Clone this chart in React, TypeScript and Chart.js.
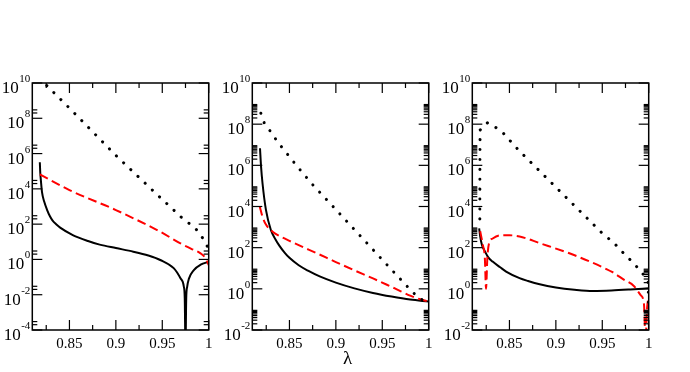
import React, { useEffect, useRef } from 'react';
import { Chart, registerables } from 'chart.js';

Chart.register(...registerables);

// ---------- shared axis data ----------
const X_MIN = 0.81;
const X_MAX = 1;
const xTickValues = [0.85, 0.9, 0.95, 1];
const xTickLabels = ['0.85', '0.9', '0.95', '1'];
const xMinorTicks = [0.825, 0.875, 0.925, 0.975];
const xAxisTitle = 'λ';

// ---------- panel 1 ----------
const p1YExponents = [-4, -2, 0, 2, 4, 6, 8, 10];
const p1MinorFactors = [2, 3];
const p1SolidX = [0.8181, 0.8186, 0.8192, 0.8205, 0.8228, 0.826, 0.829, 0.8319, 0.836, 0.84, 0.8536, 0.87, 0.8826, 0.9, 0.9188, 0.935, 0.9478, 0.9623, 0.9696, 0.9732, 0.9742, 0.975, 0.9758, 0.9768, 0.9786, 0.984, 0.9913, 1.0];
const p1SolidY = [3.2e5, 7.9e4, 3.2e4, 6.3e3, 1.9e3, 630, 280, 158, 95, 63, 24, 11, 6.9, 4.4, 2.75, 1.66, 0.93, 0.32, 0.085, 0.029, 0.0063, 1e-5, 0.0063, 0.028, 0.079, 0.25, 0.5, 0.74];
const p1DashX = [0.8181, 0.85, 0.9, 0.9478, 0.9696, 0.9813, 0.9913, 0.9967, 1.0];
const p1DashY = [6.6e4, 8.5e3, 630, 37, 8.1, 4.0, 2.2, 1.15, 0.48];
const p1DotX = [0.8181, 0.8257, 0.85, 0.9, 0.95, 0.9605, 0.9677, 0.976, 0.984, 0.9913, 0.9967, 1.0];
const p1DotY = [1.8e10, 7.1e9, 3.8e8, 7.9e5, 2.5e3, 790, 330, 140, 72, 26, 8.1, 4.0];

// ---------- panel 2 ----------
const p2YExponents = [-2, 0, 2, 4, 6, 8, 10];
const p2MinorFactors = [2, 3, 4, 5, 6, 7, 8, 9];
const p2SolidX = [0.8183, 0.8195, 0.821, 0.8247, 0.83, 0.835, 0.8391, 0.845, 0.85, 0.86, 0.87, 0.8826, 0.9, 0.92, 0.94, 0.96, 0.98, 1.0];
const p2SolidY = [6.8e6, 7.9e5, 1.35e5, 6.8e3, 720, 250, 126, 56, 32, 14, 7.6, 4.0, 2.0, 1.05, 0.63, 0.42, 0.3, 0.24];
const p2DashX = [0.8181, 0.821, 0.8247, 0.8319, 0.84, 0.85, 0.86, 0.88, 0.9, 0.92, 0.94, 0.955, 0.97, 0.98, 0.99, 1.0];
const p2DashY = [9.8e3, 3.2e3, 1.32e3, 600, 355, 214, 132, 52, 20, 7.9, 3.2, 1.58, 0.76, 0.47, 0.32, 0.24];
const p2DotX = [0.8192, 0.8228, 0.829, 0.8348, 0.8413, 0.8478, 0.8543, 0.8609, 0.8746, 0.9, 0.95, 0.9822, 0.9902, 0.996];
const p2DotY = [3.4e8, 1.17e8, 4.8e7, 2.0e7, 8.1e6, 3.5e6, 1.5e6, 6.5e5, 1.2e5, 7.1e3, 26, 0.72, 0.35, 0.24];

// ---------- panel 3 ----------
const p3YExponents = [-2, 0, 2, 4, 6, 8, 10];
const p3MinorFactors = [2, 3, 4, 5, 6, 7, 8, 9];
const p3SolidX = [0.8174, 0.8185, 0.8195, 0.821, 0.8228, 0.827, 0.8319, 0.84, 0.8464, 0.8609, 0.87, 0.8826, 0.9, 0.92, 0.94, 0.96, 0.98, 1.0];
const p3SolidY = [870, 355, 200, 112, 78, 35, 21, 11.2, 6.9, 3.3, 2.4, 1.66, 1.17, 0.91, 0.79, 0.83, 0.93, 1.07];
const p3DashX = [0.8185, 0.8215, 0.8235, 0.8248, 0.8262, 0.828, 0.832, 0.84, 0.85, 0.8609, 0.8826, 0.9188, 0.955, 0.9605, 0.9732, 0.984, 0.9913, 0.9949, 0.9966, 0.9983, 1.0];
const p3DashY = [630, 126, 32, 1.0, 32, 160, 280, 400, 400, 350, 166, 45, 8.9, 6.6, 2.8, 1.38, 0.5, 0.18, 0.0032, 0.126, 0.4];
const p3DotX = [0.8181, 0.8182, 0.8184, 0.8264, 0.8355, 0.8435, 0.86, 0.9, 0.95, 0.963, 0.9703, 0.9775, 0.9848, 0.992, 0.9993, 0.9997, 1.0];
const p3DotY = [2.5e3, 1e6, 5.2e7, 1.17e8, 6.8e7, 3.6e7, 5.4e6, 8.7e4, 500, 162, 71, 34, 15.5, 6.8, 2.45, 0.32, 0.032];

type PanelSpec = {
  exps: number[];
  minor: number[];
  solid: [number[], number[]];
  dash: [number[], number[]];
  dot: [number[], number[]];
  title?: string;
};

const panels: PanelSpec[] = [
  { exps: p1YExponents, minor: p1MinorFactors, solid: [p1SolidX, p1SolidY], dash: [p1DashX, p1DashY], dot: [p1DotX, p1DotY] },
  { exps: p2YExponents, minor: p2MinorFactors, solid: [p2SolidX, p2SolidY], dash: [p2DashX, p2DashY], dot: [p2DotX, p2DotY], title: xAxisTitle },
  { exps: p3YExponents, minor: p3MinorFactors, solid: [p3SolidX, p3SolidY], dash: [p3DashX, p3DashY], dot: [p3DotX, p3DotY] },
];

const SERIF = "'Liberation Serif', 'Times New Roman', serif";
const CANVAS_W = 230;
const CANVAS_H = 372;

const pts = (xs: number[], ys: number[]) => xs.map((x, i) => ({ x, y: ys[i] }));

function decorPlugin(spec: PanelSpec) {
  return {
    id: 'panelDecor',
    afterDatasetsDraw(chart: any) {
      const { ctx, chartArea: a, scales } = chart;
      const xs = scales.x;
      const ys = scales.y;
      ctx.save();
      ctx.strokeStyle = '#000';
      ctx.lineWidth = 1.2;
      const seg = (x1: number, y1: number, x2: number, y2: number) => {
        ctx.beginPath();
        ctx.moveTo(x1, y1);
        ctx.lineTo(x2, y2);
        ctx.stroke();
      };
      const MAJ = 10;
      const MIN = 5;
      xTickValues.forEach((v) => {
        const px = xs.getPixelForValue(v);
        seg(px, a.bottom, px, a.bottom - MAJ);
        seg(px, a.top, px, a.top + MAJ);
      });
      xMinorTicks.forEach((v) => {
        const px = xs.getPixelForValue(v);
        seg(px, a.bottom, px, a.bottom - MIN);
        seg(px, a.top, px, a.top + MIN);
      });
      spec.exps.forEach((e) => {
        const py = ys.getPixelForValue(Math.pow(10, e));
        seg(a.left, py, a.left + MAJ, py);
        seg(a.right, py, a.right - MAJ, py);
        spec.minor.forEach((k) => {
          const v = k * Math.pow(10, e);
          if (v >= ys.max) return;
          const pm = ys.getPixelForValue(v);
          seg(a.left, pm, a.left + MIN, pm);
          seg(a.right, pm, a.right - MIN, pm);
        });
      });
      ctx.lineWidth = 1.5;
      ctx.strokeRect(a.left, a.top, a.right - a.left, a.bottom - a.top);

      ctx.fillStyle = '#000';
      ctx.textBaseline = 'alphabetic';
      ctx.textAlign = 'left';
      const right = a.left - 2;
      spec.exps.forEach((e) => {
        const py = ys.getPixelForValue(Math.pow(10, e));
        const expStr = String(e);
        ctx.font = `11px ${SERIF}`;
        const ew = ctx.measureText(expStr).width;
        ctx.font = `17px ${SERIF}`;
        const bw = ctx.measureText('10').width;
        const bx = right - ew - bw - 0.5;
        ctx.fillText('10', bx, py + 10);
        ctx.font = `11px ${SERIF}`;
        ctx.fillText(expStr, bx + bw + 0.5, py - 1);
      });

      if (spec.title) {
        ctx.font = `19px ${SERIF}`;
        ctx.textAlign = 'center';
        ctx.fillText(spec.title, (a.left + a.right) / 2 + 7, 364);
      }
      ctx.restore();
    },
  };
}

function Panel({ spec, left }: { spec: PanelSpec; left: number }) {
  const ref = useRef<HTMLCanvasElement>(null);
  useEffect(() => {
    const minY = Math.pow(10, spec.exps[0]);
    const maxY = Math.pow(10, spec.exps[spec.exps.length - 1]);
    const chart = new Chart(ref.current as HTMLCanvasElement, {
      type: 'line',
      data: {
        datasets: [
          {
            data: pts(spec.dot[0], spec.dot[1]),
            borderColor: '#000',
            borderWidth: 3,
            borderDash: [0.1, 9.8],
            borderCapStyle: 'round',
            pointRadius: 0,
            tension: 0,
            fill: false,
          },
          {
            data: pts(spec.dash[0], spec.dash[1]),
            borderColor: '#ff0000',
            borderWidth: 2,
            borderDash: [9, 4.5],
            pointRadius: 0,
            cubicInterpolationMode: 'monotone',
            fill: false,
          },
          {
            data: pts(spec.solid[0], spec.solid[1]),
            borderColor: '#000',
            borderWidth: 2,
            pointRadius: 0,
            cubicInterpolationMode: 'monotone',
            fill: false,
          },
        ],
      },
      options: {
        animation: false,
        responsive: false,
        maintainAspectRatio: false,
        events: [],
        layout: { padding: { left: 32.3, right: CANVAS_W - 208.7, top: 83, bottom: 0 } },
        plugins: { legend: { display: false }, tooltip: { enabled: false } },
        scales: {
          x: {
            type: 'linear',
            min: X_MIN,
            max: X_MAX,
            afterBuildTicks: (s: any) => {
              s.ticks = xTickValues.map((v) => ({ value: v }));
            },
            afterFit: (s: any) => {
              s.height = 42;
            },
            grid: { display: false, drawTicks: false },
            border: { display: false },
            ticks: {
              autoSkip: false,
              maxRotation: 0,
              padding: 5,
              color: '#000',
              font: { family: SERIF, size: 15 },
              callback: (_v: any, i: number) => xTickLabels[i],
            },
          },
          y: {
            type: 'logarithmic',
            display: false,
            min: minY,
            max: maxY,
          },
        },
      } as any,
      plugins: [decorPlugin(spec)],
    } as any);
    return () => chart.destroy();
  }, []);
  return (
    <canvas
      ref={ref}
      width={CANVAS_W}
      height={CANVAS_H}
      style={{ position: 'absolute', left, top: 0, width: CANVAS_W, height: CANVAS_H }}
    />
  );
}

export default function App() {
  return (
    <div style={{ position: 'absolute', left: 0, top: 0, width: 690, height: 372, background: '#fff', overflow: 'hidden' }}>
      {panels.map((p, i) => (
        <Panel key={i} spec={p} left={220 * i} />
      ))}
    </div>
  );
}
